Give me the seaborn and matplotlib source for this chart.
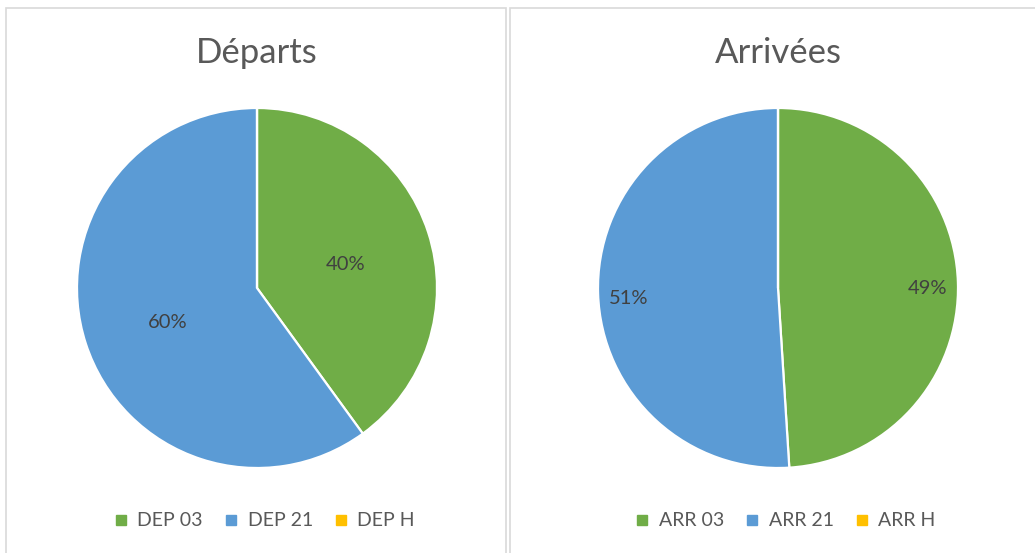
import matplotlib
matplotlib.use("Agg")
import matplotlib.pyplot as plt
import seaborn as sns
from matplotlib.patches import Rectangle
from matplotlib.lines import Line2D

# data
dep_labels = ["DEP 03", "DEP 21", "DEP H"]
dep_values = [40, 60, 0]
arr_labels = ["ARR 03", "ARR 21", "ARR H"]
arr_values = [49, 51, 0]
titles = ["Départs", "Arrivées"]

sns.set_theme(style="white")
plt.rcParams["font.family"] = ["Lato", "DejaVu Sans"]

colors = ["#70AD47", "#5B9BD5", "#FFC000"]

W, H = 1035, 553
fig = plt.figure(figsize=(W / 100, H / 100), dpi=100)
fig.patch.set_facecolor("white")

# panel borders (pixel coords -> figure fraction)
for x0, x1 in [(6, 506), (510, 1040)]:
    fig.patches.append(Rectangle((x0 / W, -0.05), (x1 - x0) / W, 1.05 - 8 / H,
                                 transform=fig.transFigure, fill=False,
                                 edgecolor="#D9D9D9", linewidth=1.2))

def draw_pie(cx, values, labels, title, pctdist):
    r = 180
    cy = 288
    ax = fig.add_axes([(cx - r) / W, 1 - (cy + r) / H, 2 * r / W, 2 * r / H])
    wedges, texts, autotexts = ax.pie(
        values, colors=colors, startangle=90, counterclock=False,
        autopct=lambda p: f"{p:.0f}%" if p > 0 else "",
        pctdistance=pctdist, radius=1.0,
        wedgeprops=dict(edgecolor="white", linewidth=1.6),
        textprops=dict(fontsize=14.5, color="#404040"))
    for t in autotexts:
        x, y = t.get_position()
        t.set_position((x, y - 0.03))
    ax.set_xlim(-1.0, 1.0)
    ax.set_ylim(-1.0, 1.0)
    ax.set_aspect("equal")
    ax.axis("off")
    fig.text(cx / W, 1 - 53 / H, title, ha="center", va="center",
             fontsize=25, color="#595959")
    handles = [Line2D([], [], marker="s", linestyle="none", markersize=7,
                      markerfacecolor=c, markeredgecolor=c) for c in colors]
    fig.legend(handles, labels, loc="center", bbox_to_anchor=(cx / W + 6 / W, 1 - 521 / H),
               ncol=3, frameon=False, fontsize=14, handletextpad=0.35,
               columnspacing=0.95, labelcolor="#595959", handlelength=1.0)

draw_pie(257, dep_values, dep_labels, titles[0], 0.52)
draw_pie(778, arr_values, arr_labels, titles[1], 0.83)

fig.savefig("out.png", dpi=100, facecolor="white")
